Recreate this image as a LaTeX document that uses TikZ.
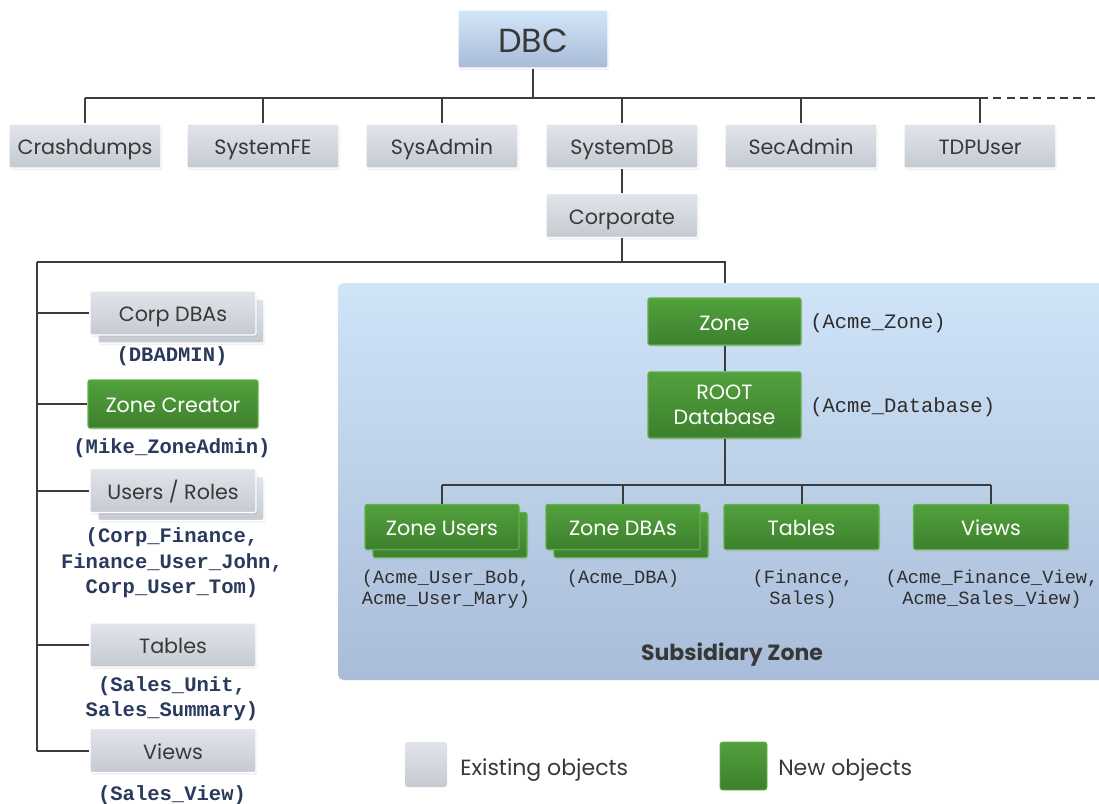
\documentclass[tikz,border=0pt]{standalone}
\usepackage{fontspec}
\setmainfont{Poppins}
\newfontfamily\monof{Liberation Mono}
\usetikzlibrary{shadows}
\definecolor{lineC}{HTML}{3C3C3C}
\definecolor{grayT}{HTML}{E1E5EB}
\definecolor{grayB}{HTML}{C5C9D1}
\definecolor{greenT}{HTML}{52A13C}
\definecolor{greenB}{HTML}{3D802E}
\definecolor{greenE}{HTML}{62B04A}
\definecolor{blueT}{HTML}{D3E6F8}
\definecolor{blueB}{HTML}{A7BAD7}
\definecolor{zoneT}{HTML}{CFE4F7}
\definecolor{zoneB}{HTML}{A9BCD9}
\definecolor{navy}{HTML}{2A3A5C}
\definecolor{txt}{HTML}{383838}
\definecolor{ztxt}{HTML}{2E2E2E}
\tikzset{
  box/.style={rounded corners=1.5pt, draw=white, line width=0.8pt, inner sep=0pt,
    font=\fontsize{15.5}{19}\selectfont,
    drop shadow={opacity=0.12, shadow xshift=1pt, shadow yshift=-1.5pt}},
  fixh/.style={text height=13pt, text depth=0pt},
  graybox/.style={box, top color=grayT, bottom color=grayB, text=txt},
  greenbox/.style={box, top color=greenT, bottom color=greenB, text=white, draw=greenE},
  topbox/.style={graybox, fixh, minimum width=114pt, minimum height=33pt},
  leftbox/.style={graybox, fixh, minimum width=124.5pt, minimum height=33pt},
  childbox/.style={greenbox, fixh, minimum height=33.75pt},
  conn/.style={draw=lineC, line width=1.5pt},
  lbl/.style={font=\monof\bfseries\fontsize{15.4}{19}\selectfont, text=navy, align=center, inner sep=0pt},
  zlbl/.style={font=\monof\fontsize{15.4}{19}\selectfont, text=ztxt, align=center, inner sep=0pt},
  clbl/.style={font=\monof\fontsize{14}{15.75}\selectfont, text=ztxt, align=center, inner sep=0pt},
  legtxt/.style={font=\fontsize{16.5}{19}\selectfont, text=txt, anchor=west, inner sep=0pt, text height=13pt, text depth=0pt}
}
\begin{document}
\begin{tikzpicture}[x=0.75pt, y=-0.75pt]
\useasboundingbox (0,0) rectangle (1099,803);

% subsidiary zone area
\node[rounded corners=4pt, top color=zoneT, bottom color=zoneB, minimum width=579pt, minimum height=297.75pt, inner sep=0pt] (za) at (724,481.5) {};
\node[font=\bfseries\fontsize{16.5}{19}\selectfont, text=txt] (zalbl) at (732,655) {Subsidiary Zone};

% coordinates for bars
\coordinate (tbar) at (0,98);
\coordinate (tend) at (1099,98);
\coordinate (cleft) at (37,262);
\coordinate (zjoin) at (725,262);
\coordinate (zbar) at (0,485);

% top level
\node[box, top color=blueT, bottom color=blueB, text=txt, minimum width=112.5pt, minimum height=43.5pt, font=\fontsize{25}{30}\selectfont, text height=19.5pt, text depth=0pt] (dbc) at (533,39) {DBC};
\node[topbox] (crash) at (85,146) {Crashdumps};
\node[topbox] (sysfe) at (263,146) {SystemFE};
\node[topbox] (sysadm) at (442,146) {SysAdmin};
\node[topbox] (sysdb) at (622,146) {SystemDB};
\node[topbox] (secadm) at (801,146) {SecAdmin};
\node[topbox] (tdp) at (980,146) {TDPUser};
\node[topbox] (corp) at (622,215.5) {Corporate};

% left column
\node[leftbox] (cdbaback) at (181,321) {};
\node[leftbox] (cdba) at (173,313) {Corp DBAs};
\node[greenbox, fixh, minimum width=127.5pt, minimum height=36pt] (zc) at (173,404) {Zone Creator};
\node[leftbox] (urback) at (181,498.5) {};
\node[leftbox] (ur) at (173,490.5) {Users / Roles};
\node[leftbox] (ltab) at (173,645) {Tables};
\node[leftbox] (lview) at (173,750.5) {Views};

\node[lbl] (l1) at (172,356) {(DBADMIN)};
\node[lbl] (l2) at (172,448) {(Mike\_ZoneAdmin)};
\node[lbl] (l3) at (172,563) {(Corp\_Finance,\\Finance\_User\_John,\\Corp\_User\_Tom)};
\node[lbl] (l4) at (172,699) {(Sales\_Unit,\\Sales\_Summary)};
\node[lbl] (l5) at (172,795) {(Sales\_View)};

% zone contents
\node[greenbox, fixh, minimum width=114.75pt, minimum height=35.25pt] (zone) at (724.5,321.5) {Zone};
\node[greenbox, minimum width=114.75pt, minimum height=49.5pt, align=center] (root) at (724.5,405) {ROOT\\Database};
\node[zlbl, anchor=west] (zl1) at (810,323) {(Acme\_Zone)};
\node[zlbl, anchor=west] (zl2) at (810,407) {(Acme\_Database)};

\node[childbox, minimum width=115.5pt] (zuback) at (450,535) {};
\node[childbox, minimum width=115.5pt] (zu) at (442,527) {Zone Users};
\node[childbox, minimum width=115.5pt] (zdback) at (631,535) {};
\node[childbox, minimum width=115.5pt] (zd) at (623,527) {Zone DBAs};
\node[childbox, minimum width=116.25pt] (zt) at (801.5,527) {Tables};
\node[childbox, minimum width=116.25pt] (zv) at (991,527) {Views};

\node[clbl] (c1) at (446,589.5) {(Acme\_User\_Bob,\\Acme\_User\_Mary)};
\node[clbl] (c2) at (623,579) {(Acme\_DBA)};
\node[clbl] (c3) at (803,589.5) {(Finance,\\Sales)};
\node[clbl] (c4) at (992,589.5) {(Acme\_Finance\_View,\\Acme\_Sales\_View)};

% legend
\node[rounded corners=2pt, top color=grayT, bottom color=grayB, minimum width=31.5pt, minimum height=33.75pt, inner sep=0pt] (lg1) at (426,764.5) {};
\node[legtxt] (lg1t) at (460,767) {Existing objects};
\node[rounded corners=2pt, top color=greenT, bottom color=greenB, draw=greenE, line width=0.6pt, minimum width=35.25pt, minimum height=36pt, inner sep=0pt] (lg2) at (743.5,766) {};
\node[legtxt] (lg2t) at (778,767) {New objects};

% connectors top
\draw[conn] (dbc.south) -- (dbc.south |- tbar);
\draw[conn] (crash.north |- tbar) -- (tdp.north |- tbar);
\draw[conn, dashed, dash pattern=on 6pt off 4pt, line width=1.2pt] (tdp.north |- tbar) -- (tend);
\foreach \n in {crash,sysfe,sysadm,sysdb,secadm,tdp}
  \draw[conn] (\n.north |- tbar) -- (\n.north);
\draw[conn] (sysdb.south) -- (corp.north);
\draw[conn] (corp.south) -- (corp.south |- cleft);
\draw[conn] (cleft) -- (zjoin) -- (zjoin |- za.north);
\draw[conn] (cleft) -- (cleft |- lview.west);
\foreach \n in {cdba,zc,ur,ltab,lview}
  \draw[conn] (cleft |- \n.west) -- (\n.west);

% connectors zone
\draw[conn] (zone.south) -- (root.north);
\draw[conn] (root.south) -- (root.south |- zbar);
\draw[conn] (zu.north |- zbar) -- (zv.north |- zbar);
\foreach \n in {zu,zd,zt,zv}
  \draw[conn] (\n.north |- zbar) -- (\n.north);
\end{tikzpicture}
\end{document}
